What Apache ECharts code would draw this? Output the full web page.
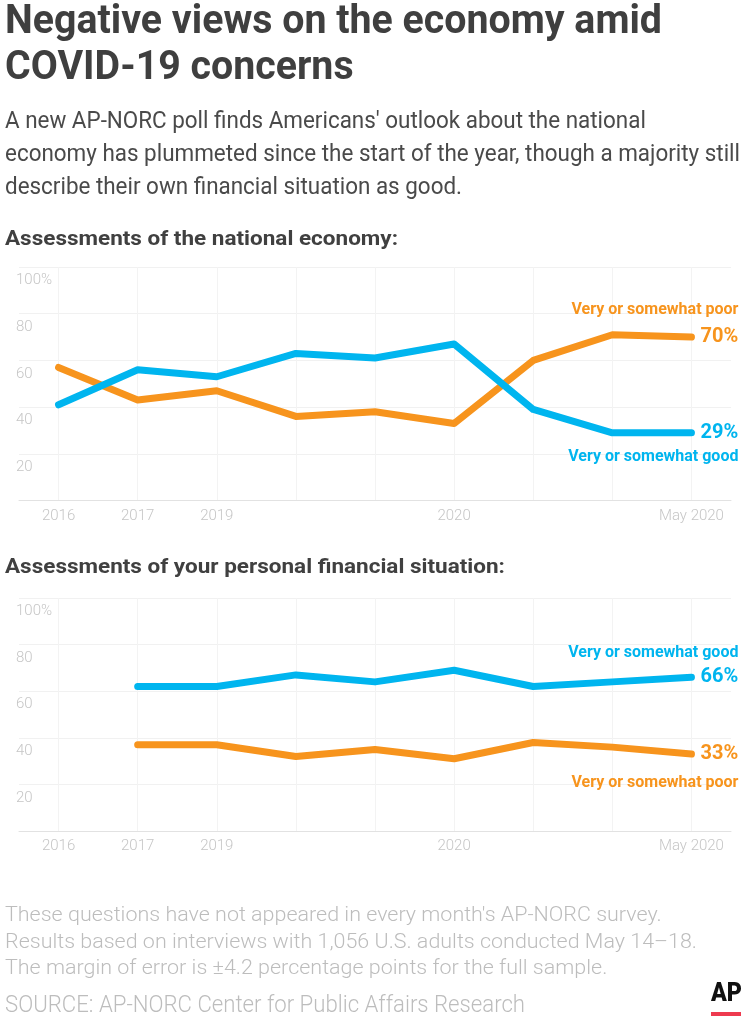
<!DOCTYPE html>
<html>
<head>
<meta charset="utf-8">
<script src="https://cdn.jsdelivr.net/npm/echarts@6/dist/echarts.min.js"></script>
<style>
html,body{margin:0;padding:0;background:#fff;}
#c{width:750px;height:1024px;}
</style>
</head>
<body>
<div id="c"></div>
<script>
// ---------- data ----------
const xTickLabels = ['2016', '2017', '2019', '', '', '2020', '', '', 'May 2020'];
const seriesNames = ['Very or somewhat poor', 'Very or somewhat good'];
const nationalPoor = [57, 43, 47, 36, 38, 33, 60, 71, 70];
const nationalGood = [41, 56, 53, 63, 61, 67, 39, 29, 29];
const personalPoor = [null, 37, 37, 32, 35, 31, 38, 36, 33];
const personalGood = [null, 62, 62, 67, 64, 69, 62, 64, 66];
const yTicks = [20, 40, 60, 80, 100];

const titleLines = ['Negative views on the economy amid', 'COVID-19 concerns'];
const subtitleLines = [
  "A new AP-NORC poll finds Americans' outlook about the national",
  'economy has plummeted since the start of the year, though a majority still',
  'describe their own financial situation as good.'
];
const headings = ['Assessments of the national economy:', 'Assessments of your personal financial situation:'];
const noteLines = [
  "These questions have not appeared in every month's AP-NORC survey.",
  'Results based on interviews with 1,056 U.S. adults conducted May 14\u201318.',
  'The margin of error is \u00b14.2 percentage points for the full sample.'
];
const sourceLine = 'SOURCE: AP-NORC Center for Public Affairs Research';

// ---------- styling ----------
const ORANGE = '#F7941D';
const BLUE = '#00B5EF';
const FONT = 'Roboto';
const AXIS_TXT = '#c6c6c6';

const mctx = document.createElement('canvas').getContext('2d');
function measure(text, size, weight) {
  mctx.font = weight + ' ' + size + 'px ' + FONT;
  return mctx.measureText(text).width;
}
function textEl(text, x, baseline, size, weight, color, scaleX) {
  return {
    type: 'text', x: x, y: baseline - 0.342 * size, scaleX: scaleX, silent: true,
    style: { text: text, fontFamily: FONT, fontSize: size, fontWeight: weight, fill: color, verticalAlign: 'middle', align: 'left' }
  };
}

const graphics = [];
// title
const tScale = 657 / measure(titleLines[0], 41, 'bold');
graphics.push(textEl(titleLines[0], 5, 36.7, 41, 'bold', '#3f3f3f', tScale));
graphics.push(textEl(titleLines[1], 5, 82.7, 41, 'bold', '#3f3f3f', tScale));
// subtitle
const sScale = 735 / measure(subtitleLines[1], 24, 'normal');
[130, 163.3, 196.7].forEach((b, i) => graphics.push(textEl(subtitleLines[i], 5, b, 24, 'normal', '#4a4a4a', sScale)));
// headings
const hScale = 393 / measure(headings[0], 21, 'bold');
graphics.push(textEl(headings[0], 5, 246.7, 21, 'bold', '#404040', hScale));
graphics.push(textEl(headings[1], 5, 575, 21, 'bold', '#404040', hScale));
// notes
const nScale = 692 / measure(noteLines[1], 21, '300');
[922.5, 949.5, 976].forEach((b, i) => graphics.push(textEl(noteLines[i], 5, b, 21, '300', '#bdbdbd', nScale)));
const srcScale = 520 / measure(sourceLine, 23, '300');
graphics.push(textEl(sourceLine, 5, 1014, 23, '300', '#bdbdbd', srcScale));
// AP logo
graphics.push(textEl('AP', 711, 1003, 25, '900', '#111111', 31 / measure('AP', 25, '900')));
graphics.push({ type: 'rect', silent: true, shape: { x: 711, y: 1012, width: 30, height: 4 }, style: { fill: '#ee3a4f' } });

// ---------- axes ----------
function xAxisFor(g) {
  return {
    type: 'value', gridIndex: g, min: -0.5, max: 8.5, splitNumber: 9,
    axisLine: { show: true, onZero: false, lineStyle: { color: '#e2e2e2', width: 1 } },
    axisTick: { show: false },
    axisLabel: {
      color: AXIS_TXT, fontFamily: FONT, fontSize: 15, fontWeight: 300, margin: 8,
      formatter: v => (Number.isInteger(v) && xTickLabels[v]) ? xTickLabels[v] : ''
    },
    splitLine: { show: true, showMinLine: false, showMaxLine: false, lineStyle: { color: '#f3f3f3', width: 1 } }
  };
}
function yAxisFor(g) {
  return {
    type: 'value', gridIndex: g, min: 0, max: 100, interval: 20,
    axisLine: { show: false }, axisTick: { show: false },
    axisLabel: {
      color: AXIS_TXT, fontFamily: FONT, fontSize: 15, fontWeight: 300, lineHeight: 15,
      align: 'left', verticalAlign: 'top', margin: 3, padding: [6, 0, 0, 0],
      formatter: v => yTicks.includes(v) ? (v === 100 ? v + '%' : String(v)) : ''
    },
    splitLine: { show: true, showMinLine: false, lineStyle: { color: '#f1f1f1', width: 1 } }
  };
}

function lineSeries(name, vals, color, g, nameOffsetY) {
  const data = vals.map((v, i) => [i, v]).filter(d => d[1] != null);
  const last = data[data.length - 1];
  return {
    type: 'line', name: name, xAxisIndex: g, yAxisIndex: g, data: data,
    symbol: 'none', z: 3,
    lineStyle: { color: color, width: 7, cap: 'round', join: 'round' },
    itemStyle: { color: color },
    endLabel: {
      show: true, distance: 9, color: color, fontFamily: FONT, fontSize: 20, fontWeight: 'bold',
      formatter: p => p.value[1] + '%'
    },
    markPoint: {
      silent: true, symbol: 'circle', symbolSize: 1, itemStyle: { color: 'rgba(0,0,0,0)' },
      data: [{ coord: last }],
      label: {
        show: true, position: 'inside', formatter: name, color: color, fontFamily: FONT,
        fontSize: 16, fontWeight: 'bold', align: 'right', verticalAlign: 'middle', offset: [47, nameOffsetY]
      }
    }
  };
}

const chart = echarts.init(document.getElementById('c'), null, { renderer: 'canvas' });
chart.setOption({
  animation: false,
  backgroundColor: '#ffffff',
  grid: [
    { left: 19, right: 19, top: 267, height: 233.5 },
    { left: 19, right: 19, top: 598, height: 233 }
  ],
  xAxis: [xAxisFor(0), xAxisFor(1)],
  yAxis: [yAxisFor(0), yAxisFor(1)],
  series: [
    lineSeries(seriesNames[0], nationalPoor, ORANGE, 0, -27),
    lineSeries(seriesNames[1], nationalGood, BLUE, 0, 24),
    lineSeries(seriesNames[1], personalGood, BLUE, 1, -24),
    lineSeries(seriesNames[0], personalPoor, ORANGE, 1, 29)
  ],
  graphic: graphics
});
</script>
</body>
</html>
